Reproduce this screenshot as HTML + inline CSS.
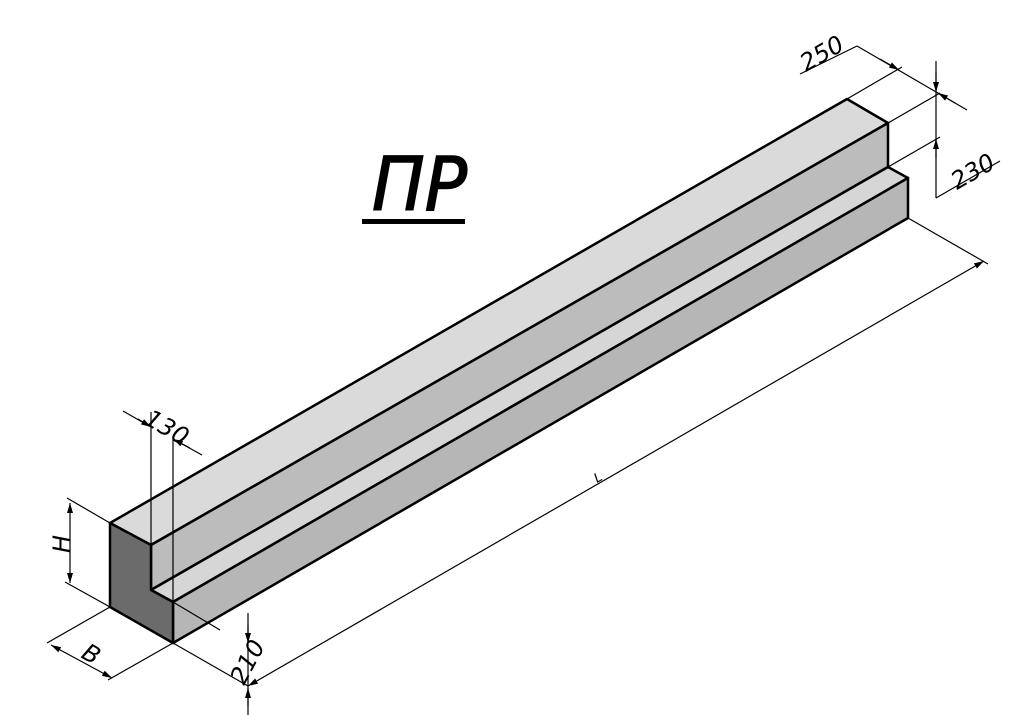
<!DOCTYPE html>
<html><head><meta charset="utf-8"><style>
html,body{margin:0;padding:0;background:#fff;}
svg{display:block}
text{font-family:"DejaVu Sans","Liberation Sans",sans-serif;font-style:italic}
</style></head><body>
<svg width="1024" height="715" viewBox="0 0 1024 715" xmlns="http://www.w3.org/2000/svg">
<defs>
<marker id="a" viewBox="0 0 10 6" refX="10" refY="3" markerWidth="10" markerHeight="6" orient="auto-start-reverse" markerUnits="userSpaceOnUse"><path d="M0,0 L10,3 L0,6 z" fill="#000"/></marker>
</defs>
<g stroke="#000" stroke-width="2.5" stroke-linejoin="round">
<polygon points="110,523 847,99 888,123 151,545" fill="#dadada"/>
<polygon points="151,545 888,123 888,167 151,590" fill="#bcbcbc"/>
<polygon points="151,590 888,167 908,178 173,602" fill="#d6d6d6"/>
<polygon points="173,602 908,178 908,218 173,643" fill="#b6b6b6"/>
<polygon points="110,523 151,545 151,590 173,602 173,643 110,607" fill="#6b6b6b"/>
</g>
<g stroke="#000" stroke-width="1.2" fill="none">
<line x1="151" y1="545" x2="151" y2="412"/>
<line x1="173" y1="602" x2="173" y2="436"/>
<line x1="123" y1="411" x2="151" y2="427"/>
<line x1="202" y1="455" x2="173" y2="439" />
<line x1="138" y1="419" x2="151" y2="427" marker-end="url(#a)"/>
<line x1="190" y1="448" x2="173" y2="439" marker-end="url(#a)"/>
<line x1="67" y1="498" x2="110" y2="523"/>
<line x1="65" y1="582" x2="110" y2="607"/>
<line x1="70" y1="503" x2="70" y2="583" marker-start="url(#a)" marker-end="url(#a)"/>
<line x1="110" y1="607" x2="47" y2="643"/>
<line x1="173" y1="643" x2="108" y2="680"/>
<line x1="51" y1="645" x2="112" y2="678" marker-start="url(#a)" marker-end="url(#a)"/>
<line x1="173" y1="602" x2="220" y2="630"/>
<line x1="173" y1="643" x2="248" y2="686"/>
<line x1="248" y1="613" x2="248" y2="715"/>
<line x1="248" y1="625" x2="248" y2="643" marker-end="url(#a)"/>
<line x1="248" y1="706" x2="248" y2="688" marker-end="url(#a)"/>
<line x1="908" y1="218" x2="988" y2="264"/>
<line x1="248" y1="686" x2="984" y2="261" marker-start="url(#a)" marker-end="url(#a)"/>
<line x1="847" y1="99" x2="902" y2="67"/>
<line x1="888" y1="123" x2="940" y2="93"/>
<line x1="857" y1="46" x2="967" y2="110"/>
<line x1="880" y1="59" x2="899" y2="70" marker-end="url(#a)"/>
<line x1="955" y1="103" x2="938" y2="93" marker-end="url(#a)"/>
<line x1="800" y1="74" x2="857" y2="46"/>
<line x1="888" y1="167" x2="940" y2="137"/>
<line x1="936" y1="61" x2="936" y2="198"/>
<line x1="936" y1="72" x2="936" y2="92" marker-end="url(#a)"/>
<line x1="936" y1="158" x2="936" y2="139" marker-end="url(#a)"/>
<line x1="936" y1="198" x2="1000" y2="161"/>
</g>
<g font-family="Liberation Sans" font-style="italic">
<text font-size="24" transform="translate(143,423) rotate(30)">130</text>
<text font-size="24" transform="translate(70,553) rotate(-90)">H</text>
<text font-size="24" transform="translate(80,657) rotate(30)">B</text>
<text font-size="24" transform="translate(244,686) rotate(-62)">210</text>
<text font-size="13" transform="translate(597,483) rotate(-30)">L</text>
<text font-size="24" transform="translate(806,72) rotate(-30)">250</text>
<text font-size="24" transform="translate(957,190) rotate(-30)">230</text>
</g>
<text x="372" y="210" font-size="74" font-style="italic" font-family="DejaVu Sans" textLength="95" lengthAdjust="spacingAndGlyphs" stroke="#000" stroke-width="1.5">ПР</text>
<rect x="362" y="219" width="103" height="5" fill="#000"/>
</svg>
</body></html>
